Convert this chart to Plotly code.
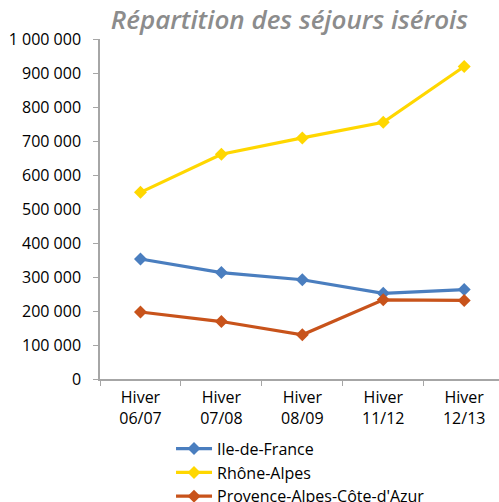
import plotly.graph_objects as go

categories = ["Hiver<br>06/07", "Hiver<br>07/08", "Hiver<br>08/09", "Hiver<br>11/12", "Hiver<br>12/13"]
ile_de_france = [353000, 313000, 292000, 252000, 263000]
rhone_alpes = [549000, 661000, 709000, 755000, 919000]
paca = [197000, 169000, 130000, 233000, 231000]
y_tickvals = [0, 100000, 200000, 300000, 400000, 500000, 600000, 700000, 800000, 900000, 1000000]
y_ticktext = ["0", "100 000", "200 000", "300 000", "400 000", "500 000", "600 000",
              "700 000", "800 000", "900 000", "1 000 000"]

series = [
    ("Ile-de-France", ile_de_france, "#4A7EBF"),
    ("Rhône-Alpes", rhone_alpes, "#FFD700"),
    ("Provence-Alpes-Côte-d'Azur", paca, "#C8531B"),
]

fig = go.Figure()
for name, vals, color in series:
    fig.add_trace(go.Scatter(
        x=categories, y=vals, name=name, mode="lines+markers",
        line=dict(color=color, width=3.2),
        marker=dict(symbol="diamond", size=10, color=color),
        cliponaxis=False,
    ))

font_family = "'Open Sans', sans-serif"
fig.update_layout(
    width=499, height=502,
    margin=dict(l=100, r=0, t=39, b=123, autoexpand=False),
    paper_bgcolor="white", plot_bgcolor="white",
    font=dict(family=font_family, size=16, color="#000000"),
    title=dict(
        text="Répartition des séjours isérois",
        font=dict(family=font_family, size=26, color="#8C8C8C", style="italic", weight=600),
        x=0.58, xanchor="center", y=0.96, yanchor="middle",
    ),
    showlegend=True,
    legend=dict(
        orientation="v", x=0.178, xanchor="left", y=-0.155, yanchor="top",
        font=dict(family=font_family, size=16, color="#000000"),
        tracegroupgap=0, itemwidth=36, bgcolor="rgba(0,0,0,0)",
    ),
    xaxis=dict(
        type="category", range=[-0.5, 4.43], automargin=False,
        showgrid=False, showline=True, linecolor="#A6A6A6", linewidth=1.5,
        ticks="outside", tickson="boundaries", ticklen=5, tickcolor="#A6A6A6",
        ticklabelstandoff=3,
        tickfont=dict(family=font_family, size=16, color="#000000"),
    ),
    yaxis=dict(
        range=[0, 1000000], tickvals=y_tickvals, ticktext=y_ticktext, automargin=False,
        showgrid=False, showline=True, linecolor="#A6A6A6", linewidth=1.5,
        ticks="outside", ticklen=5, tickcolor="#A6A6A6", zeroline=False,
        ticklabelstandoff=9,
        tickfont=dict(family=font_family, size=16, color="#000000"),
    ),
)

fig.write_html("out.html", config={"displayModeBar": False},
               post_script="document.body.style.margin='0';document.body.style.overflow='hidden';")
